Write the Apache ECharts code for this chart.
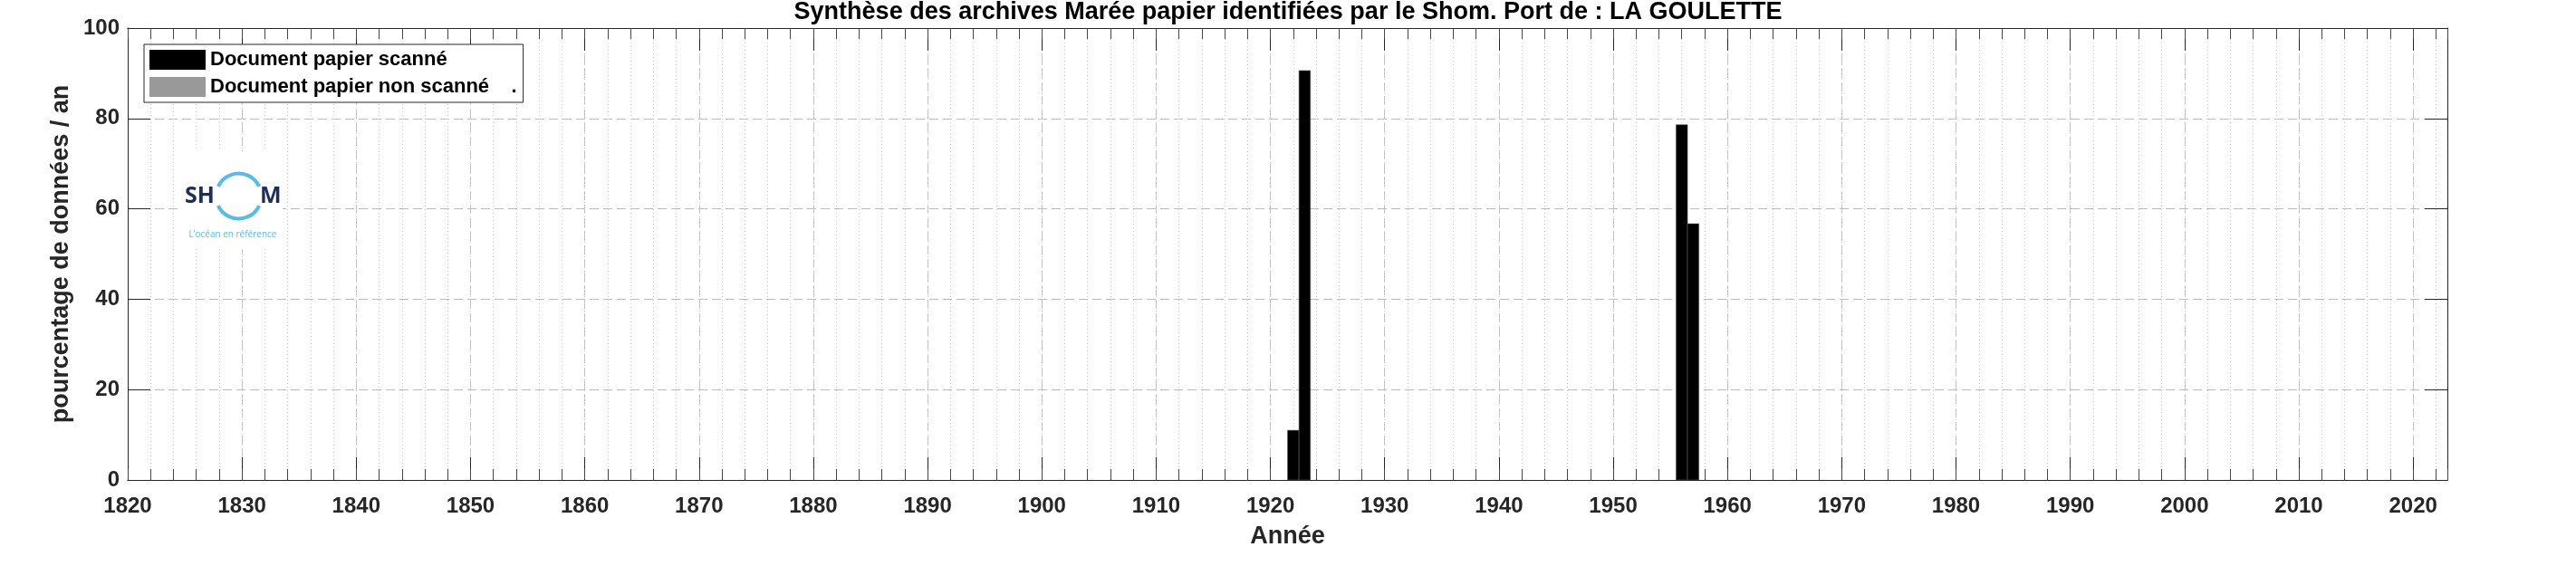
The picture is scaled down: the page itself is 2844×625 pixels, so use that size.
<!DOCTYPE html>
<html>
<head>
<meta charset="utf-8">
<script src="https://cdn.jsdelivr.net/npm/echarts@6/dist/echarts.min.js"></script>
<style>
html,body{margin:0;padding:0;background:#fff;}
#chart{width:2844px;height:625px;}
</style>
</head>
<body>
<div id="chart"></div>
<script>
// ---- data ----
const titleText = 'Synthèse des archives Marée papier identifiées par le Shom. Port de : LA GOULETTE';
const seriesNames = ['Document papier scanné', 'Document papier non scanné    .'];
const years = [1922, 1923, 1956, 1957];
const scannedPct = [11, 90.6, 78.6, 56.7];
const unscannedYears = [];
const unscannedPct = [];
const xMin = 1820, xMax = 2023, xMajor = 10, xMinor = 2;
const yMin = 0, yMax = 100, yMajor = 20;
const xName = 'Année';
const yName = 'pourcentage de données / an';

const FONT = '"Liberation Sans", Arial, Helvetica, sans-serif';
const AX = '#262626';

const scannedData = years.map((y, i) => [y, scannedPct[i]]);
const unscannedData = unscannedYears.map((y, i) => [y, unscannedPct[i]]);

function barRender(color) {
  return function (params, api) {
    const x = api.value(0), v = api.value(1);
    const p0 = api.coord([x - 0.5, v]);
    const p1 = api.coord([x + 0.5, 0]);
    return {
      type: 'rect',
      shape: { x: p0[0], y: p0[1], width: p1[0] - p0[0], height: p1[1] - p0[1] },
      style: { fill: color, stroke: '#5a5a5a', lineWidth: 0.6 }
    };
  };
}

const majorSplit = { show: true, lineStyle: { color: '#bdbdbd', type: [10, 5], width: 1 } };
const minorSplit = { show: true, lineStyle: { color: '#cfcfcf', type: [1, 3], width: 1 } };

function xAx(pos, interval, tickLen, opts) {
  return Object.assign({
    type: 'value', gridIndex: 0, position: pos, min: xMin, max: xMax, interval: interval,
    axisLine: { show: true, onZero: false, lineStyle: { color: AX, width: 1 } },
    axisTick: { show: true, inside: true, length: tickLen, lineStyle: { color: tickLen > 15 ? AX : '#444', width: 1 } },
    axisLabel: { show: false },
    splitLine: { show: false }
  }, opts || {});
}

const chart = echarts.init(document.getElementById('chart'), null, { renderer: 'canvas' });
chart.setOption({
  backgroundColor: '#fff',
  animation: false,
  title: {
    text: titleText, left: 'center', top: 0, padding: 0,
    textStyle: { fontFamily: FONT, fontSize: 27, fontWeight: 'bold', color: '#000' }
  },
  grid: { left: 141, right: 142, top: 31, bottom: 95, containLabel: false },
  legend: {
    orient: 'vertical', left: 159, top: 49, padding: [6, 7, 6, 6], itemGap: 8,
    itemWidth: 62, itemHeight: 22, icon: 'rect', selectedMode: false,
    borderColor: AX, borderWidth: 1, backgroundColor: '#fff',
    itemStyle: { borderWidth: 0 },
    textStyle: { fontFamily: FONT, fontSize: 22, fontWeight: 'bold', color: '#000', lineHeight: 22 },
    data: seriesNames
  },
  xAxis: [
    xAx('bottom', xMajor, 25, {
      axisLabel: {
        show: true, margin: 17, fontFamily: FONT, fontSize: 24, fontWeight: 'bold', color: AX,
        formatter: v => (v % xMajor === 0 ? String(v) : '')
      },
      splitLine: majorSplit,
      name: xName, nameLocation: 'middle', nameGap: 49,
      nameTextStyle: { fontFamily: FONT, fontSize: 27, fontWeight: 'bold', color: AX }
    }),
    xAx('bottom', xMinor, 12, { splitLine: minorSplit }),
    xAx('top', xMajor, 25),
    xAx('top', xMinor, 12)
  ],
  yAxis: [
    {
      type: 'value', position: 'left', min: yMin, max: yMax, interval: yMajor,
      axisLine: { show: true, lineStyle: { color: AX, width: 1 } },
      axisTick: { show: true, inside: true, length: 25, lineStyle: { color: AX } },
      axisLabel: { margin: 9, fontFamily: FONT, fontSize: 24, fontWeight: 'bold', color: AX },
      splitLine: majorSplit,
      name: yName, nameLocation: 'middle', nameGap: 50,
      nameTextStyle: { fontFamily: FONT, fontSize: 27, fontWeight: 'bold', color: AX }
    },
    {
      type: 'value', position: 'right', min: yMin, max: yMax, interval: yMajor,
      axisLine: { show: true, lineStyle: { color: AX, width: 1 } },
      axisTick: { show: true, inside: true, length: 25, lineStyle: { color: AX } },
      axisLabel: { show: false },
      splitLine: { show: false }
    }
  ],
  graphic: [
    { type: 'rect', z: 1, shape: { x: 200, y: 167, width: 112, height: 108 }, style: { fill: '#fff' } },
    { type: 'text', z: 2, style: { x: 204, y: 217, text: 'SH', fontFamily: '"Open Sans", Lato, sans-serif', fontWeight: 'bold', fontSize: 25, fill: '#1c2f5c', verticalAlign: 'middle', align: 'left' } },
    { type: 'text', z: 2, style: { x: 287, y: 217, text: 'M', fontFamily: '"Open Sans", Lato, sans-serif', fontWeight: 'bold', fontSize: 25, fill: '#1c2f5c', verticalAlign: 'middle', align: 'left' } },
    { type: 'arc', z: 2, shape: { cx: 263.5, cy: 216.5, r: 25, startAngle: 205 * Math.PI / 180, endAngle: 335 * Math.PI / 180 }, style: { stroke: '#56bde6', lineWidth: 4, fill: null } },
    { type: 'arc', z: 2, shape: { cx: 263.5, cy: 216.5, r: 25, startAngle: 25 * Math.PI / 180, endAngle: 155 * Math.PI / 180 }, style: { stroke: '#56bde6', lineWidth: 4, fill: null } },
    { type: 'text', z: 2, style: { x: 257, y: 259, text: 'L\u2019océan en référence', fontFamily: '"Open Sans", Lato, sans-serif', fontSize: 10, fill: '#56bde6', verticalAlign: 'middle', align: 'center' } }
  ],
  series: [
    {
      name: seriesNames[0], type: 'custom', xAxisIndex: 0, yAxisIndex: 0, z: 3,
      itemStyle: { color: '#000000' }, encode: { x: 0, y: 1 },
      renderItem: barRender('#000000'), data: scannedData, clip: true
    },
    {
      name: seriesNames[1], type: 'custom', xAxisIndex: 0, yAxisIndex: 0, z: 3,
      itemStyle: { color: '#999999' }, encode: { x: 0, y: 1 },
      renderItem: barRender('#999999'), data: unscannedData, clip: true
    }
  ]
});
</script>
</body>
</html>
